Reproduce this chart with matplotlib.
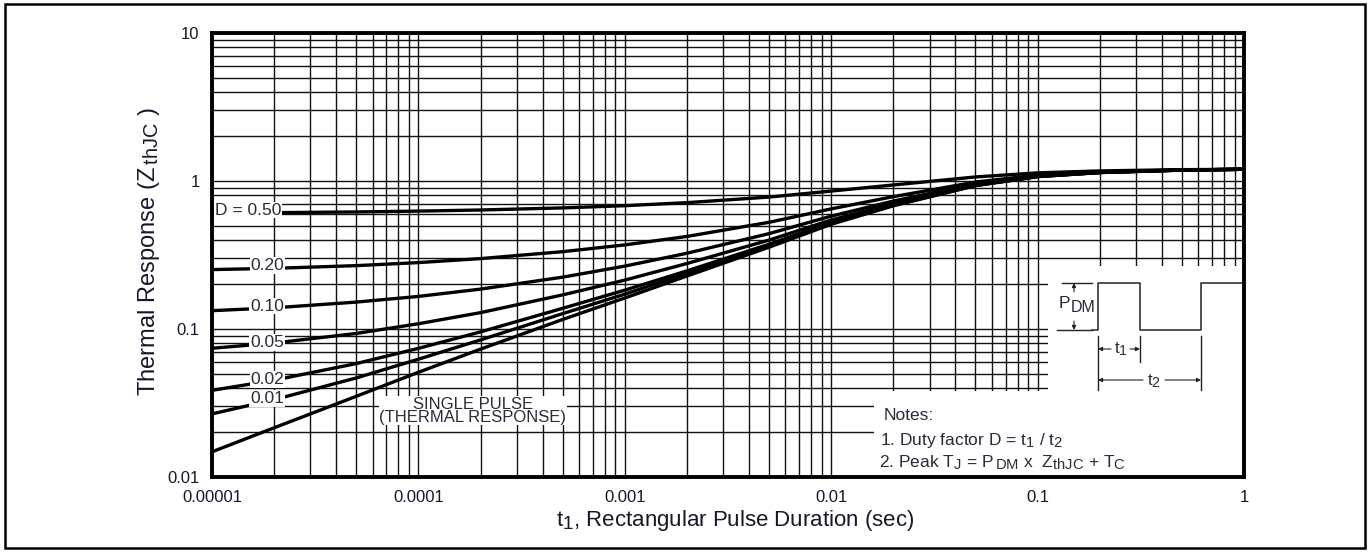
import matplotlib
matplotlib.use("Agg")
import matplotlib.pyplot as plt
import numpy as np
from matplotlib.patches import Rectangle
from matplotlib.ticker import LogLocator, NullFormatter
try:
    import matplotlib._mathtext as _mt
    _mt.SHRINK_FACTOR = 0.85
except Exception:
    pass

plt.rcParams['font.family'] = ['Liberation Sans', 'DejaVu Sans']
plt.rcParams['mathtext.fontset'] = 'custom'
plt.rcParams['mathtext.rm'] = 'Liberation Sans'
plt.rcParams['mathtext.it'] = 'Liberation Sans'
plt.rcParams['mathtext.default'] = 'regular'

# ---- data ----
t = [1e-5, 2e-5, 5e-5, 1e-4, 2e-4, 5e-4, 1e-3, 2e-3, 5e-3,
     1e-2, 2e-2, 5e-2, 1e-1, 2e-1, 5e-1, 1.0]
z_d50 = [0.607, 0.611, 0.618, 0.626, 0.637, 0.658, 0.681, 0.714, 0.779,
         0.855, 0.940, 1.065, 1.135, 1.170, 1.193, 1.200]
z_d20 = [0.252, 0.257, 0.268, 0.281, 0.299, 0.333, 0.370, 0.422, 0.526,
         0.648, 0.784, 0.984, 1.096, 1.152, 1.188, 1.200]
z_d10 = [0.133, 0.139, 0.152, 0.166, 0.186, 0.224, 0.266, 0.325, 0.441,
         0.579, 0.732, 0.957, 1.083, 1.146, 1.187, 1.200]
z_d05 = [0.0741, 0.0804, 0.0933, 0.1085, 0.129, 0.170, 0.214, 0.277, 0.399,
         0.545, 0.706, 0.944, 1.077, 1.143, 1.186, 1.200]
z_d02 = [0.0385, 0.0451, 0.0584, 0.074, 0.0956, 0.138, 0.183, 0.247, 0.374,
         0.524, 0.690, 0.935, 1.073, 1.141, 1.185, 1.200]
z_d01 = [0.0267, 0.0333, 0.0467, 0.0625, 0.0844, 0.127, 0.172, 0.238, 0.365,
         0.517, 0.685, 0.933, 1.071, 1.141, 1.185, 1.200]
z_single = [0.0148, 0.0215, 0.0351, 0.051, 0.0731, 0.116, 0.162, 0.228, 0.357,
            0.510, 0.680, 0.930, 1.070, 1.140, 1.185, 1.200]

curves = [z_d50, z_d20, z_d10, z_d05, z_d02, z_d01, z_single]
curve_labels = ["D = 0.50", "0.20", "0.10", "0.05", "0.02", "0.01"]

xticks = [1e-5, 1e-4, 1e-3, 1e-2, 1e-1, 1]
xticklabels = ["0.00001", "0.0001", "0.001", "0.01", "0.1", "1"]
yticks = [0.01, 0.1, 1, 10]
yticklabels = ["0.01", "0.1", "1", "10"]

TXT = '#17172a'
W, H = 1371, 552
fig = plt.figure(figsize=(W / 100, H / 100), dpi=100)
ax = fig.add_axes([212 / W, 1 - 477 / H, 1032 / W, 444 / H])
ax.set_xscale('log')
ax.set_yscale('log')
ax.set_xlim(1e-5, 1)
ax.set_ylim(0.01, 10)
ax.set_axisbelow(True)

for axis in (ax.xaxis, ax.yaxis):
    axis.set_minor_locator(LogLocator(base=10, subs=np.arange(2, 10)))
    axis.set_minor_formatter(NullFormatter())
ax.grid(True, which='both', color='#111111', lw=1.0)

ax.set_xticks(xticks)
ax.set_xticklabels(xticklabels)
ax.set_yticks(yticks)
ax.set_yticklabels(yticklabels)
ax.tick_params(which='both', length=0)
ax.tick_params(axis='x', pad=9.5, labelsize=12, labelcolor=TXT)
ax.tick_params(axis='y', pad=9, labelsize=12, labelcolor=TXT)
for s in ax.spines.values():
    s.set_linewidth(2.8)
    s.set_color('black')

for z in curves:
    ax.plot(t, z, color='black', lw=2.4, zorder=3, solid_capstyle='butt',
            solid_joinstyle='round')

# white areas for the waveform sketch and notes
ax.add_patch(Rectangle((0.81, 0.194), 0.19, 0.281, transform=ax.transAxes,
                       facecolor='white', edgecolor='none', zorder=2))
ax.add_patch(Rectangle((0.6415, 0.0), 0.3585, 0.194, transform=ax.transAxes,
                       facecolor='white', edgecolor='none', zorder=2))

# curve labels
bbox = dict(facecolor='white', edgecolor='none', pad=0.5)
label_pos = [(0.0029, 0.601), (0.0698, 0.476), (0.0698, 0.385), (0.0698, 0.303),
             (0.0698, 0.2195), (0.0698, 0.1765)]
for (lx, ly), lab in zip(label_pos, curve_labels):
    ha = 'left' if lab.startswith('D') else 'right'
    ax.text(lx, ly, lab, transform=ax.transAxes, fontsize=12.5, color='#2a2a3a',
            ha=ha, va='center', bbox=bbox, zorder=4)

ax.text(0.2529, 0.149, "SINGLE PULSE\n(THERMAL RESPONSE)", transform=ax.transAxes,
        fontsize=12, color='#2a2a3a', ha='center', va='center',
        linespacing=0.88, bbox=dict(facecolor='white', edgecolor='none', pad=0.2), zorder=4)

ax.set_xlabel("t$_1$, Rectangular Pulse Duration (sec)", fontsize=16,
              color=TXT, labelpad=2)
ax.xaxis.label.set_x(0.507)
ax.set_ylabel("Thermal Response (Z$_{\\,thJC}$ )", fontsize=17,
              color=TXT, labelpad=4)
ax.yaxis.label.set_y(0.507)

# overlay in pixel coordinates for border and waveform sketch
ov = fig.add_axes([0, 0, 1, 1], zorder=10)
ov.set_xlim(0, W)
ov.set_ylim(H, 0)
ov.axis('off')
ov.patch.set_alpha(0)
ov.add_patch(Rectangle((5, 4), 1360, 544, facecolor='none', edgecolor='black', lw=1.8))

wc = '#222222'
tc = '#2a2a3a'
yt, yb = 283, 330
ov.plot([1092, 1098, 1098, 1140, 1140, 1201, 1201, 1242],
        [yb, yb, yt, yt, yb, yb, yt, yt], color=wc, lw=1.1)
ov.plot([1062, 1092], [yt, yt], color=wc, lw=1.0)
ov.plot([1057, 1092], [yb, yb], color=wc, lw=1.0)
ap = dict(arrowstyle='-|>', color=wc, lw=0.8, mutation_scale=6, shrinkA=0, shrinkB=0)
ov.annotate('', xy=(1074, yt), xytext=(1074, 292), arrowprops=ap)
ov.annotate('', xy=(1074, yb), xytext=(1074, 321), arrowprops=ap)
ov.text(1059, 303, "P", fontsize=12.5, color=tc, ha='left', va='center')
ov.text(1071, 308, "DM", fontsize=11.5, color=tc, ha='left', va='center')
# t1 / t2 dimensions
ov.plot([1098, 1098], [336, 390], color=wc, lw=1.0)
ov.plot([1140, 1140], [336, 362], color=wc, lw=1.0)
ov.plot([1201, 1201], [336, 390], color=wc, lw=1.0)
ov.annotate('', xy=(1098, 349), xytext=(1111, 349), arrowprops=ap)
ov.annotate('', xy=(1140, 349), xytext=(1130, 349), arrowprops=ap)
ov.text(1121, 349, "t$_1$", fontsize=12, color=tc, ha='center', va='center')
ov.annotate('', xy=(1098, 380), xytext=(1143, 380), arrowprops=ap)
ov.annotate('', xy=(1201, 380), xytext=(1165, 380), arrowprops=ap)
ov.text(1154, 381, "t$_2$", fontsize=12, color=tc, ha='center', va='center')

# notes
ov.text(884, 416, "Notes:", fontsize=12.5, color=tc, ha='left', va='center')
ov.text(880, 440, "1. Duty factor D = t$_1$ / t$_2$", fontsize=12.5, color=tc,
        ha='left', va='center')
ov.text(879, 463, "2. Peak T$_J$ = P$_{\\,DM}$ x  Z$_{thJC}$ + T$_C$", fontsize=12.5,
        color=tc, ha='left', va='center')

fig.savefig("out.png", dpi=100)
